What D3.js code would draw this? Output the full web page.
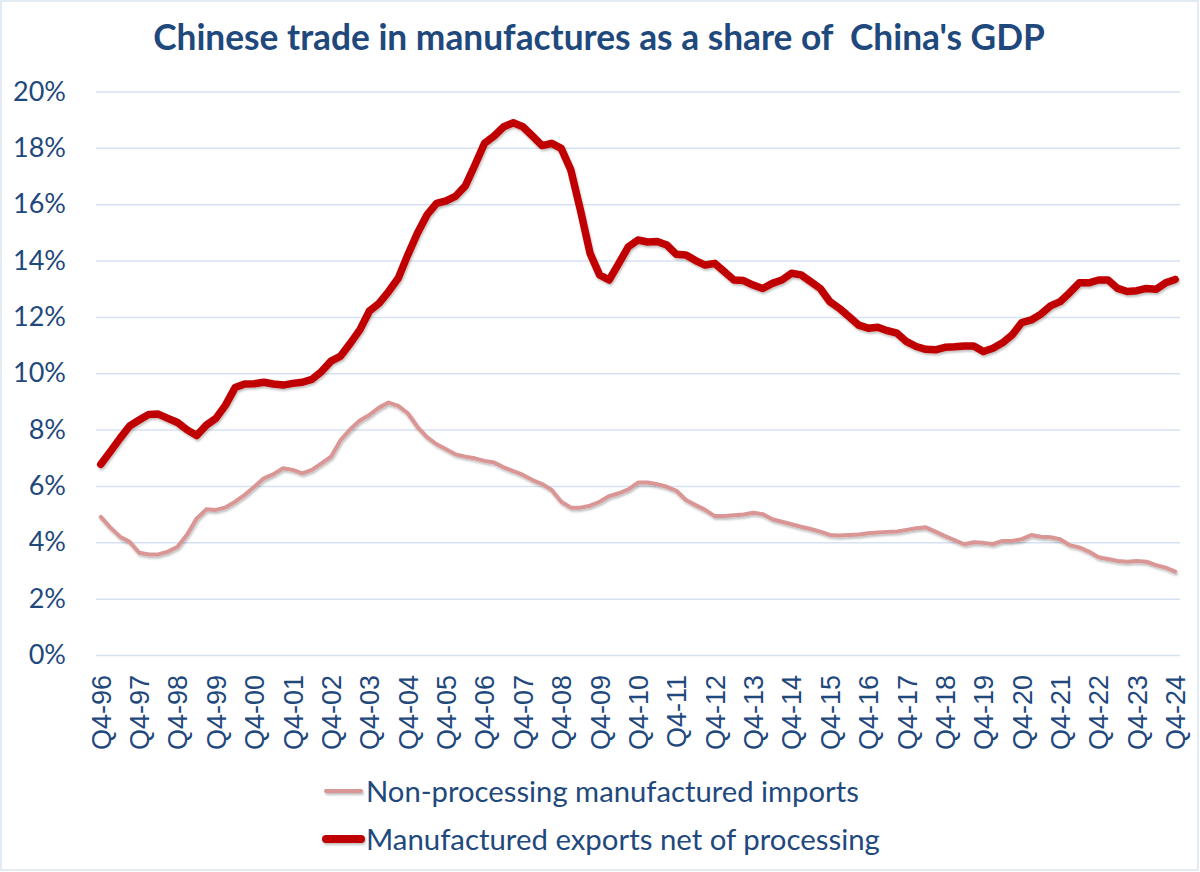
<!doctype html>
<html lang="en">
  <head>
    <meta charset="utf-8">
    <title>Chinese trade in manufactures</title>
    <script src="https://d3js.org/d3.v7.min.js"></script>
    <style>
      body { margin: 0; background: #fff; }
      .axis text { fill: #1f497d; }
      .axis path { display: none; }
    </style>
  </head>
  <body>
    <script>

      // quarters from Q4-96 to Q4-24
      var quarters = [];
      quarters.push("Q4-96");
      for (var yr = 1997; yr <= 2024; yr++) {
        ["Q1", "Q2", "Q3", "Q4"].forEach(function(q){
          quarters.push(q + "-" + String(yr).slice(2));
        });
      }

      var yTicks = [0, 2, 4, 6, 8, 10, 12, 14, 16, 18, 20];

      // % of GDP
      var exportsNet = [
        6.77, 7.22, 7.69, 8.13, 8.34, 8.54, 8.55, 8.40, 8.25, 7.99,
        7.79, 8.16, 8.40, 8.87, 9.49, 9.62, 9.63, 9.68, 9.62, 9.58,
        9.64, 9.68, 9.78, 10.06, 10.43, 10.61, 11.06, 11.54, 12.21, 12.48,
        12.90, 13.37, 14.20, 14.97, 15.62, 16.03, 16.12, 16.29, 16.65, 17.39,
        18.16, 18.42, 18.75, 18.89, 18.75, 18.42, 18.08, 18.16, 17.98, 17.21,
        15.79, 14.26, 13.49, 13.31, 13.90, 14.49, 14.73, 14.66, 14.68, 14.55,
        14.22, 14.20, 14.00, 13.84, 13.90, 13.61, 13.31, 13.29, 13.13, 13.01,
        13.19, 13.31, 13.55, 13.49, 13.25, 13.01, 12.54, 12.30, 12.01, 11.71,
        11.60, 11.63, 11.51, 11.42, 11.12, 10.95, 10.85, 10.83, 10.92, 10.94,
        10.97, 10.97, 10.77, 10.89, 11.08, 11.36, 11.80, 11.89, 12.10, 12.39,
        12.54, 12.86, 13.21, 13.21, 13.31, 13.31, 13.01, 12.90, 12.93, 13.01,
        12.98, 13.21, 13.33
      ];

      var importsNonProc = [
        4.90, 4.52, 4.20, 4.02, 3.63, 3.57, 3.57, 3.67, 3.84, 4.28,
        4.85, 5.17, 5.15, 5.24, 5.44, 5.68, 5.97, 6.27, 6.42, 6.63,
        6.57, 6.45, 6.57, 6.80, 7.04, 7.63, 8.01, 8.32, 8.52, 8.78,
        8.96, 8.84, 8.58, 8.10, 7.73, 7.48, 7.30, 7.12, 7.04, 6.98,
        6.89, 6.83, 6.66, 6.53, 6.39, 6.21, 6.07, 5.86, 5.44, 5.23,
        5.23, 5.30, 5.44, 5.64, 5.74, 5.88, 6.12, 6.12, 6.06, 5.97,
        5.83, 5.50, 5.32, 5.15, 4.93, 4.93, 4.96, 4.99, 5.05, 5.00,
        4.82, 4.73, 4.64, 4.55, 4.47, 4.38, 4.26, 4.24, 4.26, 4.28,
        4.32, 4.35, 4.37, 4.38, 4.44, 4.50, 4.53, 4.38, 4.22, 4.08,
        3.93, 4.00, 3.98, 3.94, 4.05, 4.05, 4.11, 4.26, 4.20, 4.18,
        4.11, 3.90, 3.82, 3.67, 3.47, 3.41, 3.34, 3.31, 3.34, 3.31,
        3.19, 3.10, 2.96
      ];

      var seriesNames = ["Non-processing manufactured imports", "Manufactured exports net of processing"];

      var width = 1200, height = 872;
      var plot = {left: 96, right: 1180, top: 91.5, bottom: 655};
      var blue = "#1f497d";
      var calibri = "Lato, 'Open Sans', sans-serif";

      var svg = d3.select("body").append("svg")
          .attr("width", width)
          .attr("height", height);

      // user space region so flat legend lines still render
      var defs = svg.append("defs");
      defs.append("filter")
          .attr("id", "shadow")
          .attr("filterUnits", "userSpaceOnUse")
          .attr("x", 0).attr("y", 0)
          .attr("width", width).attr("height", height)
        .append("feDropShadow")
          .attr("dx", 1).attr("dy", 2)
          .attr("stdDeviation", 1.3)
          .attr("flood-color", "#000")
          .attr("flood-opacity", 0.25);

      svg.append("rect")
          .attr("x", 1).attr("y", 1)
          .attr("width", width - 3).attr("height", height - 3)
          .attr("fill", "#fff")
          .attr("stroke", "#d9e3f0")
          .attr("stroke-width", 1.5);

      var x = d3.scalePoint()
          .domain(quarters)
          .range([plot.left, plot.right])
          .padding(0.5);

      var y = d3.scaleLinear()
          .domain([0, 20])
          .range([plot.bottom, plot.top]);

      // y axis + gridlines
      var yAxis = svg.append("g")
          .attr("class", "axis")
          .attr("transform", "translate(" + plot.left + ",0)")
          .call(d3.axisLeft(y)
            .tickValues(yTicks)
            .tickSize(-(plot.right - plot.left))
            .tickPadding(30)
            .tickFormat(function(d){ return d + "%"; }));

      yAxis.selectAll(".tick line")
          .attr("stroke", "#d6e2f2")
          .attr("stroke-width", 1.5);

      yAxis.selectAll(".tick text")
          .style("font-family", calibri)
          .style("font-size", "27px");

      // x axis, one label per year
      var xLabels = quarters.filter(function(d){ return d.slice(0, 2) == "Q4"; });

      var xAxis = svg.append("g")
          .attr("class", "axis")
          .attr("transform", "translate(0," + plot.bottom + ")")
          .call(d3.axisBottom(x)
            .tickValues(xLabels)
            .tickSize(0));

      xAxis.selectAll(".tick text")
          .attr("transform", "rotate(-90)")
          .attr("x", -20)
          .attr("y", 0)
          .attr("dy", "0.35em")
          .attr("text-anchor", "end")
          .style("font-family", "'Liberation Sans', Arial, sans-serif")
          .style("font-size", "27px");

      // lines
      var line = d3.line()
          .x(function(d, i){ return x(quarters[i]); })
          .y(function(d){ return y(d); });

      svg.append("path")
          .datum(importsNonProc)
          .attr("fill", "none")
          .attr("stroke", "#d99694")
          .attr("stroke-width", 4)
          .attr("stroke-linejoin", "round")
          .attr("stroke-linecap", "round")
          .attr("filter", "url(#shadow)")
          .attr("d", line);

      svg.append("path")
          .datum(exportsNet)
          .attr("fill", "none")
          .attr("stroke", "#c00000")
          .attr("stroke-width", 7.5)
          .attr("stroke-linejoin", "round")
          .attr("stroke-linecap", "round")
          .attr("filter", "url(#shadow)")
          .attr("d", line);

      // shrink/grow a text so it spans a given width
      function fitWidth(sel, w) {
        var len = sel.node().getComputedTextLength();
        var size = parseFloat(sel.style("font-size"));
        sel.style("font-size", (size * w / len) + "px");
      }

      // title
      var title = svg.append("text")
          .attr("x", 599)
          .attr("y", 50)
          .attr("text-anchor", "middle")
          .attr("fill", blue)
          .style("font-family", calibri)
          .style("font-weight", "bold")
          .style("font-size", "34px")
          .style("white-space", "pre")
          .text("Chinese trade in manufactures as a share of  China's GDP");
      fitWidth(title, 892);

      // legend
      var legend = [
        {name: seriesNames[0], color: "#d99694", w: 4, y: 791, textW: 493},
        {name: seriesNames[1], color: "#c00000", w: 8, y: 839, textW: 514}
      ];

      var lg = svg.selectAll(".legend")
          .data(legend)
        .enter().append("g")
          .attr("class", "legend");

      lg.append("line")
          .attr("x1", 326).attr("x2", 361)
          .attr("y1", function(d){ return d.y; })
          .attr("y2", function(d){ return d.y; })
          .attr("stroke", function(d){ return d.color; })
          .attr("stroke-width", function(d){ return d.w; })
          .attr("stroke-linecap", "round")
          .attr("filter", "url(#shadow)");

      lg.append("text")
          .attr("x", 366)
          .attr("y", function(d){ return d.y; })
          .attr("dy", "0.36em")
          .attr("fill", blue)
          .style("font-family", calibri)
          .style("font-size", "28px")
          .text(function(d){ return d.name; })
          .each(function(d){ fitWidth(d3.select(this), d.textW); });

    </script>
  </body>
</html>
